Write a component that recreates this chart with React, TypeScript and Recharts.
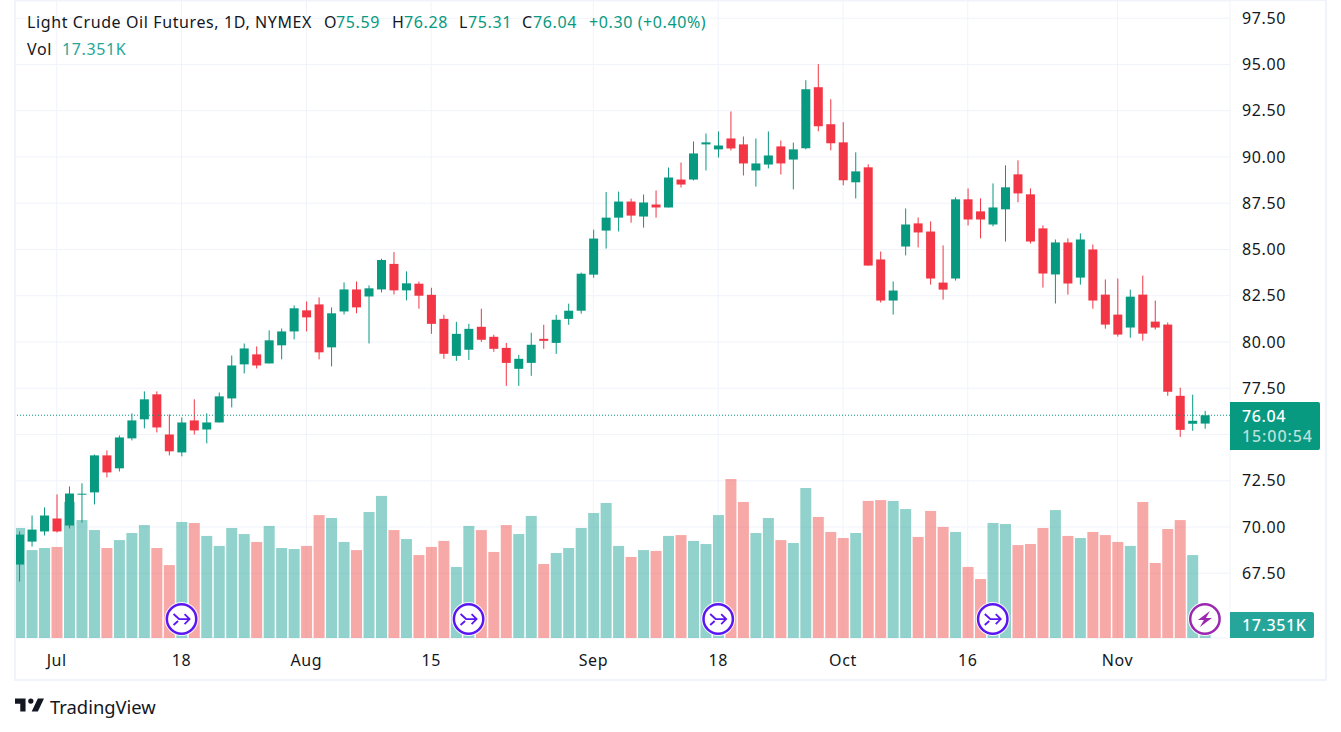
import React from 'react';
import { Bar, CartesianGrid, ComposedChart, ReferenceDot, ReferenceLine, XAxis, YAxis } from 'recharts';

const opens = [
  67.97, 69.21, 69.76, 70.46, 70.08, 71.77, 71.87, 73.87, 73.17, 74.79, 75.82, 77.17, 75.0, 74.03, 75.76, 75.27,
  75.65, 76.95, 78.79, 79.33, 78.84, 79.82, 80.57, 81.71, 82.03, 79.71, 81.65, 82.84, 82.46, 82.84, 84.22, 82.79,
  83.15, 82.55, 81.25, 79.25, 79.58, 80.82, 80.28, 79.68, 78.55, 78.87, 80.17, 79.95, 81.25, 81.69, 83.64, 86.02,
  86.72, 87.59, 86.78, 87.43, 87.27, 88.78, 88.78, 90.68, 90.41, 91.0, 90.68, 89.27, 89.59, 90.57, 89.86, 90.47,
  93.77, 91.77, 90.79, 88.63, 89.44, 84.46, 82.24, 85.16, 86.41, 85.97, 83.21, 83.43, 87.71, 87.06, 86.35, 87.17,
  89.06, 87.98, 86.14, 83.65, 85.38, 83.48, 85.0, 82.56, 81.48, 80.78, 82.56, 81.1, 80.94, 77.09, 75.58, 75.59,
];
const highs = [
  69.76, 70.62, 71.06, 71.76, 72.19, 72.36, 73.92, 74.14, 74.95, 76.14, 77.33, 77.33, 76.09, 75.92, 76.9, 76.14,
  77.27, 79.27, 79.92, 79.76, 80.63, 80.73, 81.98, 82.19, 82.41, 81.87, 83.22, 83.27, 83.06, 84.5, 84.86, 83.82,
  83.26, 82.93, 81.47, 81.09, 80.98, 81.8, 80.39, 79.95, 79.3, 80.5, 80.93, 81.47, 82.07, 83.75, 86.07, 88.11,
  88.13, 87.75, 87.97, 88.19, 89.43, 89.7, 90.84, 91.27, 91.38, 92.46, 91.11, 91.0, 91.38, 90.89, 90.78, 94.15,
  95.02, 93.12, 91.88, 90.25, 89.6, 84.89, 83.27, 87.22, 86.73, 86.52, 85.22, 87.82, 88.3, 87.76, 88.57, 89.55,
  89.82, 88.3, 86.3, 85.54, 85.6, 85.87, 85.27, 83.38, 83.43, 82.83, 83.59, 82.24, 81.05, 77.53, 77.15, 76.28,
];
const lows = [
  67.05, 68.94, 69.54, 69.7, 69.92, 70.24, 71.22, 72.68, 73.0, 74.68, 75.33, 75.11, 73.87, 73.82, 75.0, 74.52,
  75.65, 76.46, 78.3, 78.57, 78.84, 79.06, 80.14, 80.57, 79.06, 78.68, 81.49, 81.55, 79.92, 82.68, 82.57, 82.25,
  81.8, 80.44, 79.09, 78.98, 79.03, 80.01, 79.47, 77.63, 77.63, 78.17, 79.63, 79.36, 80.93, 81.53, 83.47, 85.05,
  85.97, 86.45, 86.18, 86.72, 87.27, 88.35, 88.73, 89.27, 89.97, 90.35, 89.0, 88.4, 89.38, 89.05, 88.25, 90.41,
  91.39, 90.36, 88.47, 87.76, 84.13, 82.13, 81.48, 84.68, 85.11, 83.1, 82.29, 83.32, 86.3, 85.6, 86.25, 85.43,
  87.55, 85.32, 82.94, 82.08, 82.56, 83.1, 81.8, 80.72, 80.29, 80.23, 80.07, 80.67, 77.09, 74.87, 75.2, 75.31,
];
const closes = [
  69.59, 69.86, 70.62, 69.76, 71.81, 71.8, 73.87, 72.95, 74.84, 75.76, 76.9, 75.38, 74.09, 75.65, 75.22, 75.65,
  77.06, 78.73, 79.65, 78.73, 80.09, 80.57, 81.82, 81.33, 79.44, 81.55, 82.84, 81.87, 82.9, 84.43, 82.79, 83.17,
  82.5, 80.98, 79.36, 80.44, 80.71, 80.12, 79.63, 78.87, 79.09, 79.85, 80.06, 81.2, 81.69, 83.69, 85.59, 86.72,
  87.59, 86.83, 87.54, 87.27, 88.89, 88.51, 90.19, 90.79, 90.62, 90.46, 89.65, 89.65, 90.08, 89.65, 90.41, 93.66,
  91.66, 90.74, 88.74, 89.22, 84.13, 82.24, 82.78, 86.35, 85.92, 83.43, 82.83, 87.71, 86.62, 86.62, 87.27, 88.36,
  88.03, 85.43, 83.7, 85.38, 83.16, 85.54, 82.24, 80.94, 80.4, 82.45, 80.45, 80.78, 77.31, 75.25, 75.74, 76.04,
];
// volume in thousands of contracts
const volumes = [
  638, 510, 522, 528, 789, 684, 626, 522, 568, 609, 655, 522, 423, 673, 667, 592,
  534, 638, 603, 557, 650, 522, 516, 534, 713, 696, 557, 510, 731, 824, 626, 574,
  481, 528, 563, 412, 650, 626, 499, 655, 603, 708, 429, 493, 522, 638, 725, 783,
  534, 470, 510, 505, 592, 597, 563, 545, 713, 922, 789, 609, 696, 568, 551, 870,
  702, 615, 580, 609, 795, 800, 795, 748, 586, 737, 644, 615, 412, 342, 667, 661,
  539, 545, 638, 742, 592, 580, 615, 597, 557, 534, 789, 435, 632, 684, 481, 17.351,
];

const priceTicks = [67.5, 70, 72.5, 75, 77.5, 80, 82.5, 85, 87.5, 90, 92.5, 95, 97.5];
const timeTicks = [3, 13, 23, 33, 46, 56, 66, 76, 88];
const timeLabels = ['Jul', '18', 'Aug', '15', 'Sep', '18', 'Oct', '16', 'Nov'];
const mergeMarkers = [13, 36, 56, 78];
const boltMarkers = [95];

const lastPrice = 76.04;
const GREEN = '#089981';
const RED = '#F23645';
const FONT = '"Noto Sans", sans-serif';
const TRACK = 0.6;

const data = opens.map((open, i) => ({
  index: i,
  open,
  high: highs[i],
  low: lows[i],
  close: closes[i],
  volume: volumes[i],
}));

const Candle = (props: any) => {
  const { x, y, width, height, payload } = props;
  const up = payload.close >= payload.open;
  const color = up ? GREEN : RED;
  const range = payload.high - payload.low;
  const toY = (v: number) => y + ((payload.high - v) / range) * height;
  const top = toY(Math.max(payload.open, payload.close));
  const bottom = toY(Math.min(payload.open, payload.close));
  const mid = x + width / 2;
  return (
    <g>
      <rect x={mid - 0.5} y={y} width={1} height={height} fill={color} />
      <rect x={x} y={top} width={width} height={Math.max(bottom - top, 1)} fill={color} />
    </g>
  );
};

const VolumeBar = (props: any) => {
  const { x, y, width, height, payload } = props;
  const color = payload.close >= payload.open ? '#26A69A' : '#EF5350';
  return <rect x={x} y={y} width={width} height={height} fill={color} fillOpacity={0.5} />;
};

const MergeIcon = ({ cx, cy }: any) => (
  <g transform={`translate(${cx},${cy})`}>
    <circle r={17} fill="#fff" fillOpacity={0.85} />
    <circle r={14.7} fill="#fff" stroke="#5B17F2" strokeWidth={2.5} />
    <path
      d="M-8 -5L-2.5 0H8M3 -5L8 0L3 5M-8 6L-3.5 2"
      fill="none"
      stroke="#5B17F2"
      strokeWidth={1.8}
    />
  </g>
);

const BoltIcon = ({ cx, cy }: any) => (
  <g transform={`translate(${cx},${cy})`}>
    <circle r={17} fill="#fff" fillOpacity={0.85} />
    <circle r={14.7} fill="#fff" stroke="#9C27B0" strokeWidth={2.5} />
    <path d="M5 -8L-7 1H-1L-5 8L7 -1H1Z" fill="#9C27B0" />
  </g>
);

const legendText: React.CSSProperties = {
  position: 'absolute',
  whiteSpace: 'pre',
  fontSize: 16,
  lineHeight: '20px',
  letterSpacing: TRACK,
};

export default function App() {
  return (
    <div style={{ position: 'absolute', left: 0, top: 0, width: 1341, height: 732, background: '#fff', fontFamily: FONT, overflow: 'hidden' }}>
      <ComposedChart
        width={1341}
        height={732}
        data={data}
        barGap={0}
        margin={{ top: 1, right: 15, bottom: 52, left: 15 }}
      >
        <CartesianGrid xAxisId="main" yAxisId="price" stroke="#F0F3FA" strokeWidth={1} />
        <XAxis
          xAxisId="main"
          dataKey="index"
          type="number"
          domain={[-0.345, 97.01]}
          ticks={timeTicks}
          tickFormatter={(v: number) => timeLabels[timeTicks.indexOf(v)]}
          interval={0}
          height={42}
          axisLine={false}
          tickLine={false}
          tickMargin={11}
          tick={{ fontSize: 16, fill: '#131722', fontFamily: FONT, letterSpacing: TRACK }}
        />
        <XAxis xAxisId="vol" dataKey="index" type="number" domain={[-0.345, 97.01]} ticks={timeTicks} hide />
        <YAxis
          yAxisId="price"
          orientation="right"
          width={96}
          domain={[64, 98.43]}
          ticks={priceTicks}
          // 75.00 sits under the last price box, so only its grid line shows
          tickFormatter={(v: number) => (v === 75 ? '' : v.toFixed(2))}
          interval={0}
          axisLine={false}
          tickLine={false}
          tickMargin={6}
          tick={{ fontSize: 16, fill: '#131722', fontFamily: FONT, letterSpacing: TRACK }}
        />
        <YAxis yAxisId="volume" domain={[0, 3694.6]} hide />
        <Bar
          xAxisId="vol"
          yAxisId="volume"
          dataKey="volume"
          barSize={11}
          shape={<VolumeBar />}
          isAnimationActive={false}
        />
        <ReferenceLine
          xAxisId="main"
          yAxisId="price"
          y={lastPrice}
          stroke={GREEN}
          strokeWidth={1}
          strokeDasharray="1 2"
        />
        <Bar
          xAxisId="main"
          yAxisId="price"
          dataKey={(d: any) => [d.low, d.high]}
          barSize={9}
          shape={<Candle />}
          isAnimationActive={false}
        />
        {mergeMarkers.map((m) => (
          <ReferenceDot key={m} xAxisId="main" yAxisId="volume" x={m} y={110} r={17} shape={<MergeIcon />} />
        ))}
        {boltMarkers.map((m) => (
          <ReferenceDot key={m} xAxisId="main" yAxisId="volume" x={m} y={110} r={17} shape={<BoltIcon />} />
        ))}
      </ComposedChart>

      <div style={{ position: 'absolute', left: 14, top: 0, width: 1309, height: 678, border: '2px solid #F0F3FA', borderTopWidth: 1, pointerEvents: 'none' }} />

      <div style={{ ...legendText, left: 27, top: 12, color: '#131722' }}>Light Crude Oil Futures, 1D, NYMEX</div>
      <div style={{ ...legendText, left: 324, top: 12, color: '#131722' }}>O</div>
      <div style={{ ...legendText, left: 336, top: 12, color: GREEN }}>75.59</div>
      <div style={{ ...legendText, left: 392, top: 12, color: '#131722' }}>H</div>
      <div style={{ ...legendText, left: 404, top: 12, color: GREEN }}>76.28</div>
      <div style={{ ...legendText, left: 459, top: 12, color: '#131722' }}>L</div>
      <div style={{ ...legendText, left: 468, top: 12, color: GREEN }}>75.31</div>
      <div style={{ ...legendText, left: 522, top: 12, color: '#131722' }}>C</div>
      <div style={{ ...legendText, left: 533, top: 12, color: GREEN }}>76.04</div>
      <div style={{ ...legendText, left: 589, top: 12, color: GREEN }}>+0.30 (+0.40%)</div>
      <div style={{ ...legendText, left: 27, top: 39, color: '#131722' }}>Vol</div>
      <div style={{ ...legendText, left: 62, top: 39, color: '#26A69A' }}>17.351K</div>

      <div style={{ position: 'absolute', left: 1230, top: 402, width: 90, height: 48, background: GREEN, borderRadius: '0 2px 2px 0' }}>
        <div style={{ position: 'absolute', left: 12, top: 4, fontSize: 16, lineHeight: '20px', letterSpacing: TRACK, fontWeight: 500, color: '#fff' }}>76.04</div>
        <div style={{ position: 'absolute', left: 12, top: 24, fontSize: 16, lineHeight: '20px', letterSpacing: 0.9, fontWeight: 500, color: 'rgba(255,255,255,0.72)' }}>15:00:54</div>
      </div>
      <div style={{ position: 'absolute', left: 1230, top: 612, width: 84, height: 26, background: '#26A69A', borderRadius: '0 2px 2px 0' }}>
        <div style={{ position: 'absolute', left: 12, top: 3, fontSize: 16, lineHeight: '20px', letterSpacing: TRACK, fontWeight: 500, color: '#fff' }}>17.351K</div>
      </div>

      <svg style={{ position: 'absolute', left: 15, top: 698 }} width={29} height={14} viewBox="2 6 33 15">
        <path d="M14 6H2v6h6v9h6V6zm14 15h-7l7-15h7l-7 15zm-8-9a3 3 0 1 0 0-6 3 3 0 0 0 0 6z" fill="#131722" />
      </svg>
      <div style={{ position: 'absolute', left: 50, top: 694, fontSize: 18.4, lineHeight: '26px', color: '#131722' }}>TradingView</div>
    </div>
  );
}
